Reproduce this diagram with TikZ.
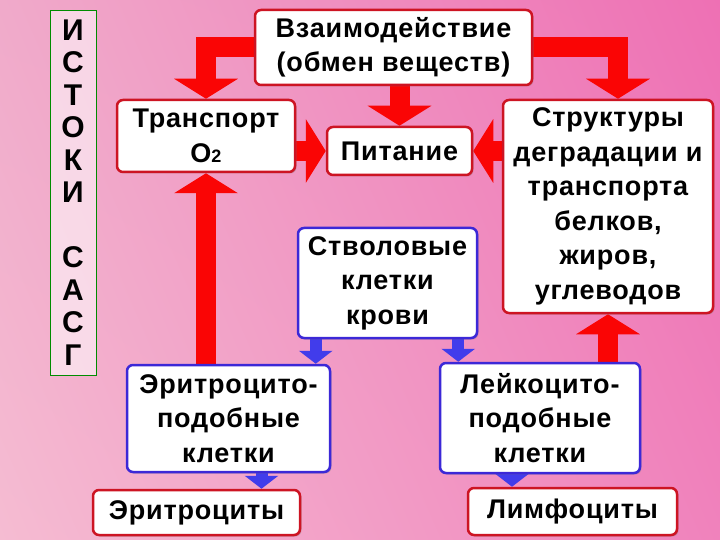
\documentclass[tikz,border=0pt]{standalone}
\usepackage{fontspec}
\setmainfont{Liberation Sans}[LetterSpace=3]
\usepackage{tikz}
\usetikzlibrary{arrows.meta, positioning, calc, shadows, shadings}

\definecolor{boxred}{RGB}{205,20,35}
\definecolor{boxblue}{RGB}{60,40,215}
\definecolor{arrred}{RGB}{250,5,5}
\definecolor{arrblue}{RGB}{65,60,235}
\definecolor{pinkA}{RGB}{240,170,202}
\definecolor{pinkB}{RGB}{238,112,180}
\definecolor{pinkC}{RGB}{245,188,210}
\definecolor{pinkD}{RGB}{240,130,188}

\pgfdeclarelayer{back}
\pgfdeclarelayer{mid}
\pgfsetlayers{back,mid,main}

\begin{document}
\begin{tikzpicture}[
  x=1pt, y=-1pt,
  every node/.style={font=\fontsize{27}{34.5}\selectfont\bfseries},
  box/.style={rectangle, rounded corners=6pt, line width=2.5pt, fill=white,
    align=center, inner sep=0pt,
    drop shadow={shadow xshift=1.5pt, shadow yshift=-1.5pt, opacity=0.35}},
  redbox/.style={box, draw=boxred},
  bluebox/.style={box, draw=boxblue},
  sidebar/.style={rectangle, draw=green!55!black, line width=0.6pt, fill=white,
    fill opacity=0.55, text opacity=1, align=center, inner sep=0pt,
    font=\fontsize{30}{32.5}\selectfont\bfseries},
  fatred/.style={draw=arrred, line width=20pt, -{Triangle[length=20pt, width=63pt]}},
  fatblue/.style={draw=arrblue, line width=12pt, -{Triangle[length=13pt, width=33pt]}},
]
  \useasboundingbox (0,0) rectangle (720,540);
  \begin{pgfonlayer}{back}
    \shade[upper left=pinkA, upper right=pinkB, lower left=pinkC, lower right=pinkD]
      (0,0) rectangle (720,540);
  \end{pgfonlayer}

  \node[sidebar, minimum width=46pt, minimum height=365pt] (ist) at (73,192.5)
    {И\\С\\Т\\О\\К\\И\\[32.5pt]С\\А\\С\\Г};

  \node[redbox, minimum width=277pt, minimum height=75pt] (vz) at (393.5,47.5)
    {Взаимодействие\\(обмен веществ)};
  \node[redbox, minimum width=178pt, minimum height=72pt] (tr) at (206,136)
    {Транспорт\\O{\fontsize{18}{18}\selectfont 2}};
  \node[redbox, minimum width=145pt, minimum height=48pt] (pi) at (399.5,151) {Питание};
  \node[redbox, minimum width=210pt, minimum height=213pt] (st) at (608,206.5)
    {Структуры\\деградации и\\транспорта\\белков,\\жиров,\\углеводов};
  \node[bluebox, minimum width=179pt, minimum height=110pt] (sv) at (387.5,283)
    {Стволовые\\клетки\\крови};
  \node[bluebox, minimum width=203pt, minimum height=107pt] (er) at (228.5,418.5)
    {Эритроцито-\\подобные\\клетки};
  \node[bluebox, minimum width=200pt, minimum height=110pt] (lk) at (540,418)
    {Лейкоцито-\\подобные\\клетки};
  \node[redbox, minimum width=207pt, minimum height=45pt] (ert) at (196.5,512.5) {Эритроциты};
  \node[redbox, minimum width=209pt, minimum height=47pt] (lm) at (572.5,511.5) {Лимфоциты};

  \begin{pgfonlayer}{mid}
    % red arrows
    \draw[fatred] (vz.west) -| (tr.north);
    \draw[fatred] (vz.east) -| ([xshift=10pt]st.north);
    \draw[fatred] (vz.south -| pi.north) -- (pi.north);
    \draw[fatred] (tr.east |- pi.west) -- (pi.west);
    \draw[fatred] (st.west |- pi.east) -- (pi.east);
    \draw[fatred] (er.north -| tr.south) -- (tr.south);
    \draw[fatred] (lk.north -| st.south) -- (st.south);
    % blue arrows
    \coordinate (s1) at ([xshift=19pt]sv.south west);
    \coordinate (s2) at ([xshift=-20pt]sv.south east);
    \coordinate (e1) at ([xshift=33pt]er.south);
    \coordinate (l1) at ([xshift=-28pt]lk.south);
    \draw[fatblue] (s1) -- (s1 |- er.north);
    \draw[fatblue] (s2) -- (s2 |- lk.north);
    \draw[fatblue] (e1) -- (e1 |- ert.north);
    \draw[fatblue] (l1) -- (l1 |- lm.north);
  \end{pgfonlayer}
\end{tikzpicture}
\end{document}
